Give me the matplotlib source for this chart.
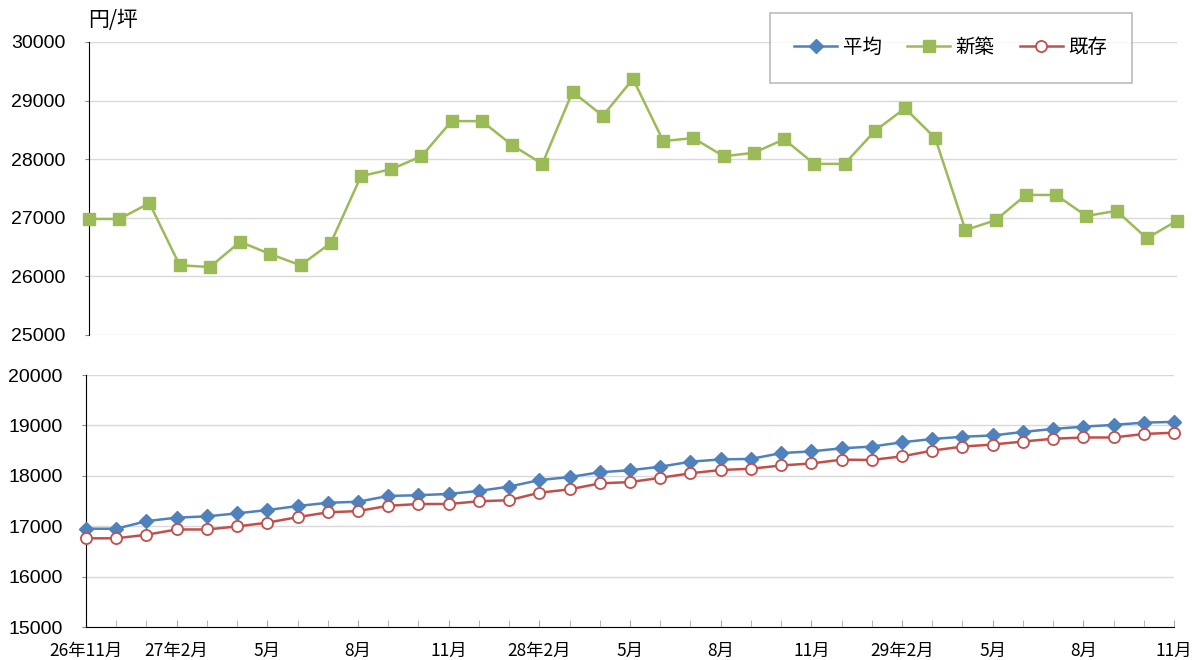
import matplotlib.pyplot as plt

plt.rcParams['font.family'] = ['Liberation Sans', 'Noto Sans CJK JP']

# monthly data, 26年11月 .. 29年11月
months = list(range(37))
tick_labels = ['26年11月', '27年2月', '5月', '8月', '11月', '28年2月', '5月', '8月',
               '11月', '29年2月', '5月', '8月', '11月']

shinchiku = [26980, 26980, 27250, 26190, 26160, 26590, 26380, 26190, 26570, 27710,
             27830, 28050, 28650, 28650, 28240, 27920, 29150, 28740, 29370, 28310,
             28360, 28050, 28110, 28340, 27920, 27920, 28480, 28870, 28360, 26790,
             26960, 27390, 27390, 27030, 27120, 26650, 26950]
heikin = [16950, 16950, 17100, 17170, 17195, 17255, 17320, 17400, 17465, 17485,
          17600, 17615, 17640, 17700, 17785, 17915, 17975, 18070, 18110, 18180,
          18280, 18325, 18335, 18450, 18485, 18545, 18580, 18665, 18730, 18775,
          18800, 18870, 18930, 18975, 19010, 19055, 19070]
kizon = [16760, 16760, 16830, 16935, 16935, 16995, 17070, 17180, 17275, 17300,
         17405, 17440, 17440, 17495, 17515, 17665, 17730, 17850, 17875, 17960,
         18050, 18115, 18140, 18205, 18245, 18320, 18315, 18385, 18500, 18580,
         18620, 18680, 18735, 18760, 18760, 18830, 18855]

blue = '#4F81BD'
green = '#9BBB59'
red = '#C0504D'
grid = '#d9d9d9'

W, H = 1192, 660
fig = plt.figure(figsize=(W / 100, H / 100), dpi=100)
ax1 = fig.add_axes([89 / W, 1 - 335 / H, (1177 - 89) / W, (335 - 42) / H])
ax2 = fig.add_axes([86 / W, 1 - 627 / H, (1174 - 86) / W, (627 - 375) / H])

l_avg, = ax1.plot([], [], '-D', color=blue, lw=1.8, ms=7.5)
l_new, = ax1.plot(months, shinchiku, '-s', color=green, lw=1.8, ms=8,
                  clip_on=False, zorder=3)
l_old, = ax1.plot([], [], '-o', color=red, mfc='white', mew=1.3, lw=1.8, ms=8)

ax2.plot(months, heikin, '-D', color=blue, lw=1.8, ms=7.5, clip_on=False, zorder=3)
ax2.plot(months, kizon, '-o', color=red, mfc='white', mew=1.3, lw=1.8, ms=8,
         clip_on=False, zorder=3)

for ax, lo, hi in [(ax1, 25000, 30000), (ax2, 15000, 20000)]:
    ax.set_xlim(0, 36)
    ax.set_ylim(lo, hi)
    ax.set_yticks(range(lo, hi + 1, 1000))
    ax.grid(axis='y', color=grid, lw=1)
    ax.set_axisbelow(True)
    for s in ['top', 'right']:
        ax.spines[s].set_visible(False)
    ax.spines['left'].set_color('black')
    ax.tick_params(axis='y', length=3, color='#888888', labelsize=14, pad=14)

ax1.spines['bottom'].set_visible(False)
ax1.set_xticks([])

ax2.set_xticks(months, minor=True)
ax2.set_xticks(months[::3])
ax2.set_xticklabels(tick_labels, fontfamily='Noto Sans CJK JP', fontsize=12.5)
ax2.tick_params(axis='x', which='both', direction='in', length=5, color='#aaaaaa',
                pad=11)
ax2.spines['bottom'].set_color('black')

fig.text(88 / W, 1 - 20 / H, '円/坪', fontfamily='Noto Sans CJK JP', fontsize=15,
         va='center', ha='left')

leg = fig.legend([l_avg, l_new, l_old], ['平均', '新築', '既存'], ncol=3,
                 loc='upper left', bbox_to_anchor=(770 / W, 1 - 13 / H),
                 borderaxespad=0,
                 prop={'family': 'Noto Sans CJK JP', 'size': 14},
                 frameon=True, fancybox=False, edgecolor='#aaaaaa',
                 borderpad=1.25, columnspacing=1.3, handlelength=2.2,
                 handletextpad=0.3)
leg.get_frame().set_linewidth(1.2)

fig.savefig('out.png', dpi=100)
